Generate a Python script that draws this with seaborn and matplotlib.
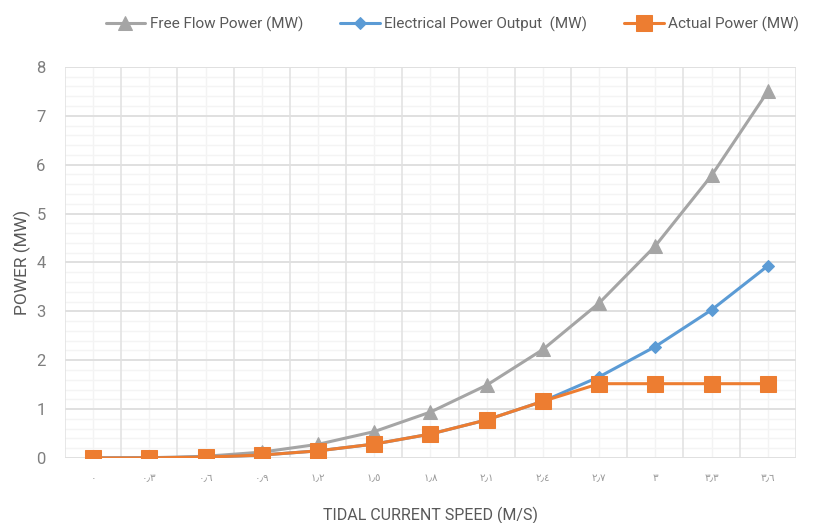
import matplotlib
matplotlib.use("Agg")
import matplotlib.pyplot as plt
import seaborn as sns
import pandas as pd
import numpy as np
from matplotlib import font_manager

speed_labels = ["٠", "٠٫٣", "٠٫٦", "٠٫٩", "١٫٢", "١٫٥", "١٫٨", "٢٫١", "٢٫٤", "٢٫٧", "٣", "٣٫٣", "٣٫٦"]
free_flow = [0.0, 0.005, 0.035, 0.12, 0.28, 0.54, 0.94, 1.49, 2.22, 3.17, 4.34, 5.78, 7.5]
electrical = [0.0, 0.002, 0.018, 0.06, 0.146, 0.285, 0.49, 0.78, 1.16, 1.66, 2.28, 3.03, 3.93]
actual = [0.0, 0.002, 0.018, 0.06, 0.146, 0.285, 0.49, 0.78, 1.16, 1.52, 1.52, 1.52, 1.52]

series_names = ["Free Flow Power (MW)", "Electrical Power Output  (MW)", "Actual Power (MW)"]
colors = ["#A5A5A5", "#5B9BD5", "#ED7D31"]

sns.set_theme(style="white")
avail = {f.name for f in font_manager.fontManager.ttflist}
main_font = "Liberation Sans Narrow" if "Liberation Sans Narrow" in avail else "Roboto"
plt.rcParams['font.family'] = [main_font, 'DejaVu Sans']

rows = []
for name, vals in zip(series_names, [free_flow, electrical, actual]):
    for i, v in enumerate(vals):
        rows.append({"idx": i, "power": v, "series": name})
df = pd.DataFrame(rows)

fig = plt.figure(figsize=(8.13, 5.23), dpi=100)
ax = fig.add_axes([0.080, 0.1243, 0.899, 0.7477])

palette = dict(zip(series_names, colors))
markers = dict(zip(series_names, ["^", "D", "s"]))
sizes = {series_names[0]: 10, series_names[1]: 6.5, series_names[2]: 11.5}

for name in series_names:
    sub = df[df.series == name]
    sns.lineplot(data=sub, x="idx", y="power", ax=ax, color=palette[name],
                 marker=markers[name], markersize=sizes[name], markeredgecolor=palette[name],
                 linewidth=2.2, label=name, zorder=3)

n = len(speed_labels)
ax.set_xlim(-0.5, n - 0.5)
ax.set_ylim(0, 8)
ax.set_xticks(range(n))
ax.set_xticklabels(speed_labels, family=['DejaVu Sans'], fontsize=7.5, color="#9a9a9a")
ax.set_yticks(range(0, 9))
ax.set_yticklabels([str(v) for v in range(0, 9)], fontsize=12, color="#7f7f7f")
ax.tick_params(axis='both', length=0)
ax.tick_params(axis='y', pad=14)
ax.tick_params(axis='x', pad=11)

# grid
for b in np.arange(-0.5, n, 1.0):
    ax.axvline(b, color="#e3e3e3", lw=1.2, zorder=1)
for c in range(n):
    ax.axvline(c, color="#f3f3f3", lw=1.0, zorder=0.5)
for y in np.arange(0, 8.01, 0.2):
    if abs(y - round(y)) < 1e-6:
        ax.axhline(y, color="#e0e0e0", lw=1.4, zorder=1)
    else:
        ax.axhline(y, color="#f4f4f4", lw=1.0, zorder=0.5)

for s in ax.spines.values():
    s.set_visible(False)

ax.set_xlabel("TIDAL CURRENT SPEED (M/S)", fontsize=11.5, color="#595959", labelpad=17)
ax.set_ylabel("POWER (MW)", fontsize=12.5, color="#595959", labelpad=4)

ax.legend(loc="lower center", bbox_to_anchor=(0.53, 1.075), ncol=3, frameon=False,
          fontsize=11, labelcolor="#595959", handlelength=2.6, columnspacing=2.4,
          handletextpad=0.3, borderaxespad=0)

fig.savefig("out.png", dpi=100)
